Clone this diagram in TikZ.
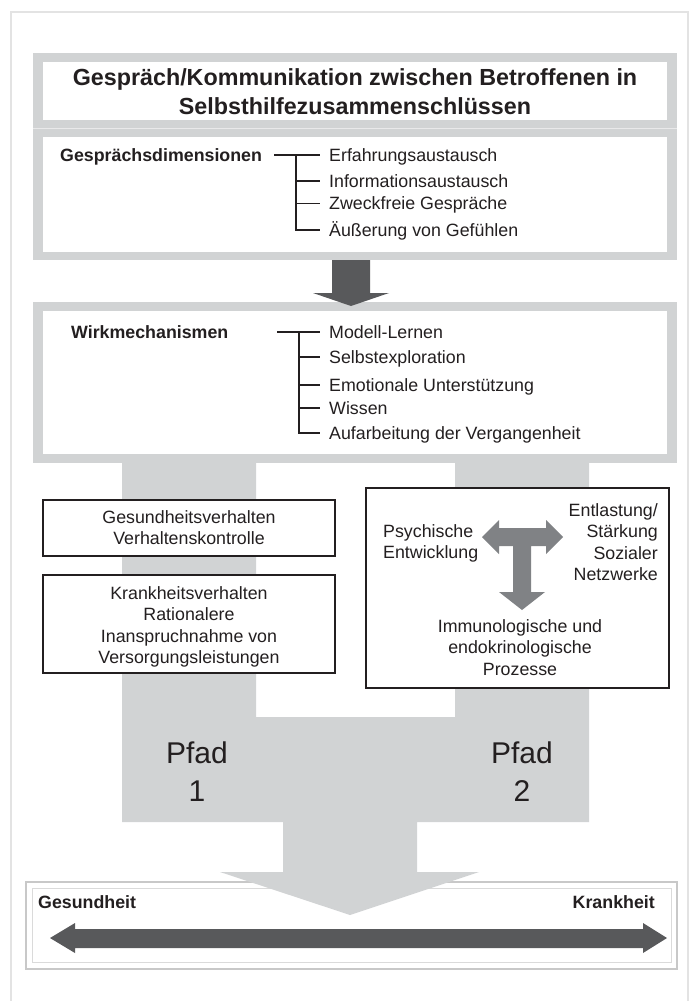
\documentclass[tikz,border=0pt]{standalone}
\usepackage{fontspec}
\setmainfont{Liberation Sans}
\usetikzlibrary{calc}
\definecolor{panelgray}{HTML}{D1D3D4}
\definecolor{darkarrow}{HTML}{58595B}
\definecolor{tgray}{HTML}{808285}
\definecolor{framegray}{HTML}{E3E3E3}
\definecolor{sepgray}{HTML}{E9E9EA}
\definecolor{boxline}{HTML}{C8C8C8}
\definecolor{boxinner}{HTML}{DADADA}
\definecolor{textcol}{HTML}{231F20}
\tikzset{
  txt/.style={inner sep=0pt, text=textcol, font=\fontsize{17.8}{21.3}\selectfont,
    execute at begin node=\strut, execute at end node=\strut},
  btxt/.style={txt, font=\fontsize{17.8}{21.3}\selectfont\bfseries},
  htxt/.style={inner sep=0pt, text=textcol, font=\fontsize{23.3}{29}\selectfont\bfseries,
    execute at begin node=\strut, execute at end node=\strut, align=center},
  ptxt/.style={inner sep=0pt, text=textcol, font=\fontsize{30}{38}\selectfont,
    execute at begin node=\strut, execute at end node=\strut, align=center},
  blackbox/.style={draw=textcol, line width=1.5pt, fill=white},
  treemain/.style={draw=textcol, line width=2.4pt},
  treeline/.style={draw=textcol, line width=1.4pt},
}
\begin{document}
\begin{tikzpicture}[x=1pt,y=-1pt]
\useasboundingbox (0,0) rectangle (698,1001);
% outer frame
\draw[framegray, line width=1.2pt] (11,1001) -- (11,12) -- (688,12) -- (688,1001);

% top panel
\fill[panelgray] (33,53) rectangle (677,260);
\fill[white] (43,62) rectangle (667,120);
\draw[sepgray, line width=1pt] (33,128) -- (677,128);
\fill[white] (43,137) rectangle (667,252);

% Wirk panel
\fill[panelgray] (33,302) rectangle (677,463);
\fill[white] (43,311) rectangle (667,454);

% dark arrow between panels
\fill[darkarrow] (332,260) -- (370,260) -- (370,293) -- (389,293) -- (351,306) -- (313,293) -- (332,293) -- cycle;

% bottom box
\draw[boxline, line width=1.5pt, fill=white] (26,882) rectangle (677,969);
\draw[boxinner, line width=0.8pt] (32,888) rectangle (671,962);

% gray paths shape with big arrow
\fill[panelgray] (122,463) -- (256,463) -- (256,717) -- (455,717) -- (455,463) -- (589,463)
  -- (589,822) -- (417,822) -- (417,872) -- (479,872) -- (350,915) -- (220,872)
  -- (283,872) -- (283,822) -- (122,822) -- cycle;

% left boxes
\draw[blackbox] (43,500) rectangle (335,556);
\draw[blackbox] (43,575) rectangle (335,673);
% right box
\draw[blackbox] (366,488) rectangle (669,688);

% T arrow
\fill[tgray] (482,537) -- (499,520) -- (499,528) -- (546,528) -- (546,520) -- (563,537)
  -- (546,554) -- (546,546) -- (531,546) -- (531,592) -- (545,592) -- (522,610)
  -- (499,592) -- (513,592) -- (513,546) -- (499,546) -- (499,554) -- cycle;

% double arrow bottom
\fill[darkarrow] (50,938) -- (75,923) -- (75,929) -- (643,929) -- (643,923) -- (667,938)
  -- (643,953) -- (643,948) -- (75,948) -- (75,953) -- cycle;

% header
\node[htxt] (head) at (355,96) {Gespräch/Kommunikation zwischen Betroffenen in\\Selbsthilfezusammenschlüssen};

% Gesprächsdimensionen
\node[btxt, anchor=west] (dlab) at (60,157.1) {Gesprächsdimensionen};
\node[txt, anchor=west] (d1) at (329,157.1) {Erfahrungsaustausch};
\node[txt, anchor=west] (d2) at (329,183.1) {Informationsaustausch};
\node[txt, anchor=west] (d3) at (329,205.4) {Zweckfreie Gespräche};
\node[txt, anchor=west] (d4) at (329,232.1) {Äußerung von Gefühlen};
\coordinate (dstart) at ($(dlab.east)+(12,-2.1)$);
\coordinate (dv) at ($(d1.west)+(-33,-2.1)$);
\draw[treemain] (dstart) -- ($(d1.west)+(-9,-2.1)$);
\draw[treeline] (dv) |- ($(d4.west)+(-9,-2.1)$);
\draw[treeline] (dv |- d2) ++(0,-2.1) -- ($(d2.west)+(-9,-2.1)$);
\draw[treeline] (dv |- d3) ++(0,-2.1) -- ($(d3.west)+(-9,-2.1)$);

% Wirkmechanismen
\node[btxt, anchor=west] (wlab) at (71,334.1) {Wirkmechanismen};
\node[txt, anchor=west] (w1) at (329,334.1) {Modell-Lernen};
\node[txt, anchor=west] (w2) at (329,359.1) {Selbstexploration};
\node[txt, anchor=west] (w3) at (329,387.1) {Emotionale Unterstützung};
\node[txt, anchor=west] (w4) at (329,410.1) {Wissen};
\node[txt, anchor=west] (w5) at (329,435.1) {Aufarbeitung der Vergangenheit};
\coordinate (wstart) at ($(w1.west)+(-52,-2.1)$);
\coordinate (wv) at ($(w1.west)+(-30,-2.1)$);
\draw[treemain] (wstart) -- ($(w1.west)+(-9,-2.1)$);
\draw[treeline] (wv) |- ($(w5.west)+(-9,-2.1)$);
\draw[treeline] (wv |- w2) ++(0,-2.1) -- ($(w2.west)+(-9,-2.1)$);
\draw[treeline] (wv |- w3) ++(0,-2.1) -- ($(w3.west)+(-9,-2.1)$);
\draw[treeline] (wv |- w4) ++(0,-2.1) -- ($(w4.west)+(-9,-2.1)$);

% left box texts
\node[txt, align=center] (g1) at (189,530.6) {Gesundheitsverhalten\\Verhaltenskontrolle};
\node[txt, align=center] (k1) at (189,628.1) {Krankheitsverhalten\\Rationalere\\Inanspruchnahme von\\Versorgungsleistungen};

% right box texts
\node[txt, align=right, anchor=east] (ent) at (658,545.1) {Entlastung/\\Stärkung\\Sozialer\\Netzwerke};
\node[txt, align=left, anchor=west] (psy) at (383,544.6) {Psychische\\Entwicklung};
\node[txt, align=center] (imm) at (520,650.6) {Immunologische und\\endokrinologische\\Prozesse};

% Pfad labels
\node[ptxt] (p1) at (197,777) {Pfad\\1};
\node[ptxt] (p2) at (522,777) {Pfad\\2};

% bottom labels
\node[btxt, anchor=west] (ges) at (38,904.1) {Gesundheit};
\node[btxt, anchor=east] (kra) at (655,904.1) {Krankheit};
\end{tikzpicture}
\end{document}
